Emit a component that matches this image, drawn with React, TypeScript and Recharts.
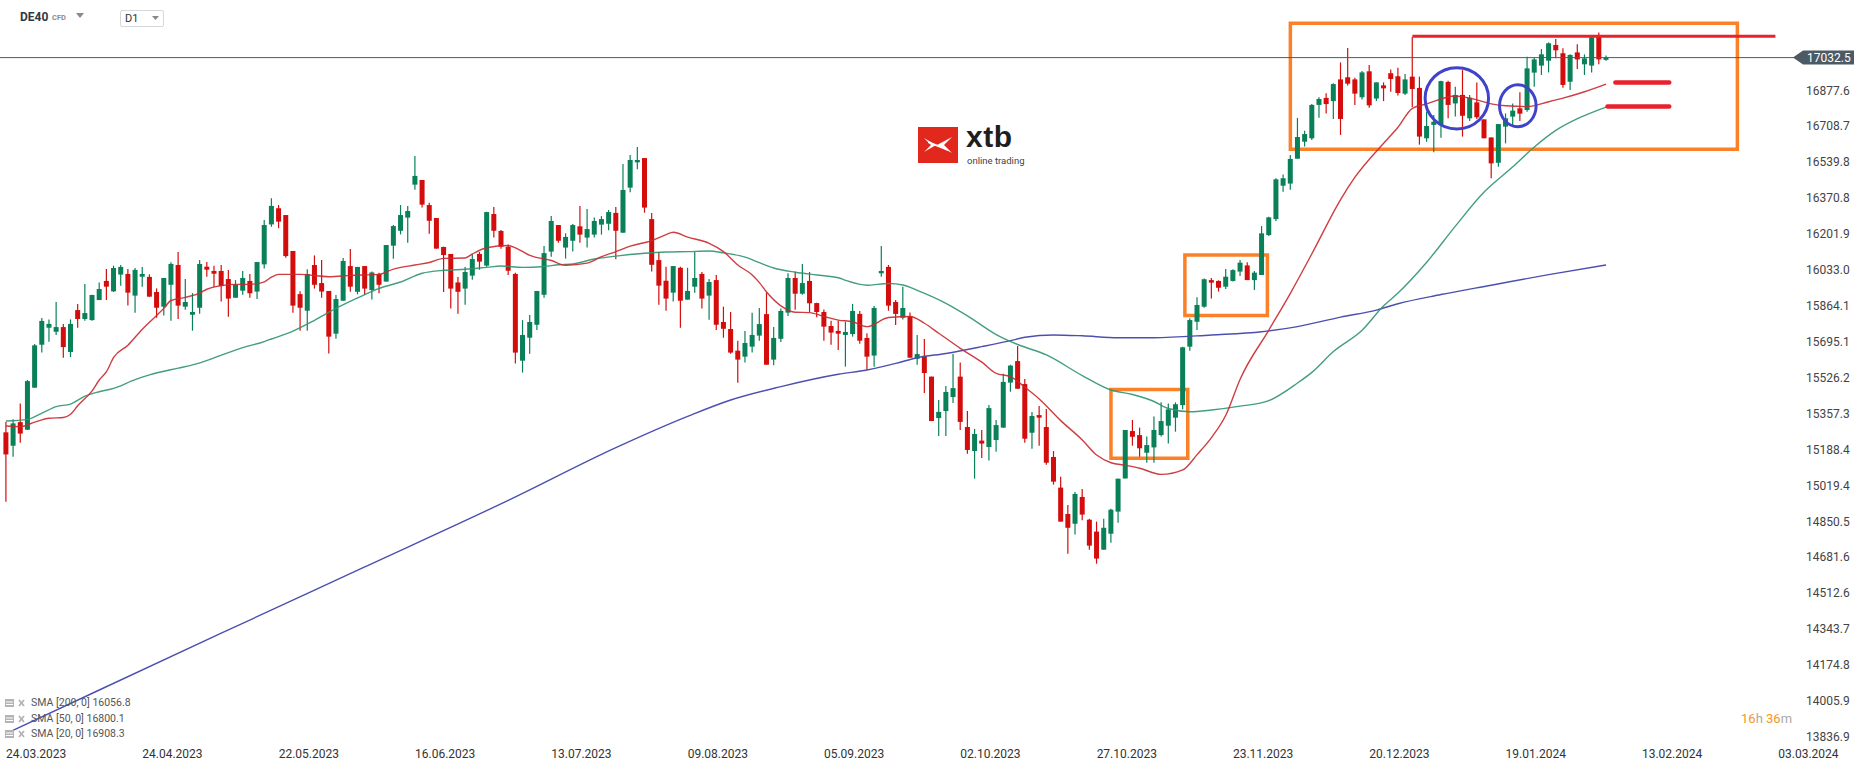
import React from "react";
import {
	ComposedChart,
	Bar,
	Line,
	XAxis,
	YAxis,
	ReferenceArea,
	ReferenceLine,
	ReferenceDot,
} from "recharts";

const W = 1866;
const H = 767;
const AXIS_W = 70;
const PLOT_R = W - AXIS_W;
const X_MIN = -0.836;
const X_MAX = 249.47;
const Y_MIN = 13836.9;
const Y_MAX = 17303.5;

const GREEN = "#0a8059";
const RED = "#d30c0c";
const ORANGE = "#fa8128";
const LINE_RED = "#e8212b";
const CIRCLE = "#3f43c9";
const FONT = "Roboto, 'Noto Sans', sans-serif";

// daily candles DE40, 24.03.2023 .. 02.02.2024
const opens = [
	15270, 15207, 15318, 15282, 15480, 15682, 15762, 15743, 15765, 15648,
	15845, 15803, 15798, 15892, 15982, 15933, 16012, 16015, 15913, 16002,
	16001, 15930, 15861, 15964, 16057, 15861, 15823, 15856, 16049, 16029,
	16029, 15991, 15903, 15936, 15982, 15932, 16060, 16248, 16324, 16292,
	16123, 15920, 15842, 16057, 15972, 15935, 15734, 15889, 16052, 15931,
	16052, 15939, 16015, 15979, 16148, 16218, 16280, 16435, 16457, 16339,
	16278, 16142, 16109, 15975, 15946, 16007, 16109, 16054, 16297, 16217,
	16143, 16015, 15607, 15715, 15776, 15917, 16120, 16245, 16139, 16171,
	16239, 16186, 16200, 16247, 16251, 16302, 16209, 16421, 16540, 16560,
	16273, 16080, 15983, 15927, 16044, 15894, 15955, 16015, 15913, 15986,
	15789, 15756, 15654, 15626, 15673, 15725, 15826, 15612, 15710, 15833,
	15996, 15922, 15982, 15878, 15836, 15770, 15747, 15728, 15732, 15827,
	15714, 15631, 16018, 16048, 15883, 15809, 15817, 15616, 15629, 15532,
	15337, 15370, 15436, 15532, 15295, 15182, 15231, 15201, 15234, 15292,
	15504, 15605, 15497, 15268, 15351, 15295, 15154, 15010, 14886, 14840,
	14966, 14859, 14803, 14718, 14793, 14897, 15053, 15276, 15257, 15174,
	15199, 15257, 15301, 15339, 15398, 15673, 15790, 15861, 15986, 15982,
	15955, 15982, 16026, 16055, 15986, 16010, 16198, 16273, 16430, 16440,
	16557, 16637, 16653, 16810, 16843, 16828, 16930, 16940, 16930, 16846,
	16968, 16840, 16902, 16959, 16945, 16863, 16943, 16890, 16653, 16716,
	16716, 16918, 16817, 16857, 16747, 16822, 16742, 16657, 16538, 16708,
	16755, 16794, 16786, 16962, 16995, 17018, 17092, 17053, 16919, 17057,
	17001, 16995, 17131, 17022,
];
const highs = [
	15320, 15331, 15406, 15516, 15685, 15808, 15801, 15883, 15780, 15801,
	15874, 15968, 15917, 15975, 16038, 16054, 16057, 16038, 16043, 16048,
	16013, 15947, 15996, 16070, 16118, 15991, 15925, 16081, 16071, 16054,
	16057, 16034, 15986, 16029, 16015, 16071, 16269, 16371, 16339, 16292,
	16123, 15933, 16037, 16102, 16081, 15935, 15916, 16090, 16132, 16048,
	16052, 16026, 16021, 16151, 16245, 16339, 16334, 16570, 16457, 16350,
	16278, 16143, 16109, 16000, 16048, 16109, 16118, 16308, 16330, 16222,
	16154, 16021, 15798, 15822, 15935, 16146, 16287, 16245, 16206, 16250,
	16334, 16320, 16281, 16287, 16316, 16330, 16532, 16574, 16612, 16560,
	16302, 16118, 16049, 16052, 16049, 16044, 16118, 16024, 15991, 16010,
	15861, 15836, 15701, 15747, 15833, 15855, 15927, 15765, 15852, 16018,
	16026, 16062, 16024, 15880, 15848, 15795, 15795, 15790, 15874, 15841,
	15736, 15864, 16146, 16057, 15892, 15955, 15834, 15728, 15709, 15532,
	15422, 15488, 15638, 15598, 15370, 15286, 15281, 15398, 15328, 15546,
	15588, 15676, 15521, 15366, 15394, 15380, 15182, 15061, 14928, 14989,
	15003, 14864, 14850, 14864, 14911, 15052, 15281, 15328, 15292, 15250,
	15344, 15411, 15406, 15411, 15673, 15806, 15905, 15993, 15996, 15985,
	16038, 16037, 16081, 16070, 16029, 16240, 16284, 16465, 16483, 16574,
	16749, 16689, 16814, 16846, 16865, 16912, 17010, 17078, 16938, 16970,
	16998, 16916, 16916, 16977, 16985, 16955, 17130, 16943, 16778, 16763,
	16924, 16924, 16896, 16974, 16857, 16915, 16742, 16657, 16720, 16770,
	16817, 16869, 17037, 17032, 17073, 17104, 17120, 17076, 17048, 17095,
	17048, 17131, 17151, 17042,
];
const lows = [
	14944, 15155, 15221, 15282, 15480, 15645, 15696, 15728, 15621, 15624,
	15762, 15795, 15795, 15892, 15892, 15930, 15960, 15866, 15833, 15955,
	15908, 15809, 15819, 15795, 15803, 15847, 15748, 15828, 16002, 15954,
	15885, 15814, 15903, 15917, 15903, 15897, 16040, 16237, 16230, 16091,
	15833, 15748, 15748, 15946, 15903, 15641, 15710, 15889, 15931, 15919,
	15916, 15895, 15924, 15979, 16087, 16201, 16162, 16411, 16327, 16204,
	16134, 15930, 15852, 15828, 15870, 15988, 16035, 16049, 16186, 16134,
	16010, 15594, 15551, 15640, 15751, 15903, 16096, 16162, 16087, 16120,
	16162, 16139, 16186, 16200, 16220, 16084, 16209, 16399, 16507, 16303,
	16026, 15870, 15842, 15885, 15762, 15894, 15927, 15852, 15800, 15751,
	15715, 15640, 15503, 15599, 15645, 15701, 15588, 15585, 15695, 15817,
	15847, 15917, 15836, 15811, 15701, 15682, 15657, 15579, 15720, 15687,
	15563, 15579, 16002, 15842, 15775, 15801, 15621, 15588, 15455, 15323,
	15253, 15253, 15408, 15281, 15169, 15052, 15149, 15137, 15179, 15292,
	15461, 15475, 15221, 15193, 15207, 15118, 15024, 14850, 14699, 14789,
	14856, 14718, 14652, 14718, 14751, 14845, 15053, 15207, 15155, 15127,
	15127, 15250, 15217, 15273, 15378, 15654, 15751, 15856, 15899, 15932,
	15944, 15979, 16005, 15986, 15939, 16010, 16193, 16264, 16402, 16411,
	16557, 16614, 16645, 16750, 16770, 16744, 16669, 16901, 16810, 16836,
	16797, 16828, 16828, 16872, 16854, 16857, 16800, 16623, 16637, 16587,
	16656, 16747, 16755, 16661, 16734, 16744, 16653, 16465, 16519, 16629,
	16711, 16734, 16778, 16896, 16951, 16963, 17029, 16891, 16880, 16979,
	16951, 16963, 17001, 17018,
];
const closes = [
	15166, 15312, 15264, 15511, 15679, 15794, 15780, 15765, 15671, 15780,
	15803, 15831, 15916, 15944, 15955, 16043, 16048, 15927, 16034, 16015,
	15908, 15856, 15996, 16062, 15866, 15883, 15836, 16062, 16035, 16016,
	15958, 15899, 15964, 15996, 15924, 16071, 16245, 16335, 16261, 16099,
	15866, 15856, 16015, 15964, 15932, 15720, 15897, 16076, 15955, 16048,
	15946, 16022, 15964, 16151, 16240, 16292, 16311, 16476, 16341, 16265,
	16134, 16104, 15946, 15931, 16024, 16085, 16073, 16306, 16218, 16143,
	16030, 15645, 15728, 15789, 15935, 16113, 16264, 16171, 16189, 16245,
	16200, 16226, 16264, 16273, 16306, 16218, 16410, 16551, 16551, 16327,
	16058, 15960, 15899, 16052, 15889, 15935, 15996, 15899, 15977, 15776,
	15757, 15645, 15612, 15690, 15728, 15779, 15588, 15714, 15841, 15996,
	15922, 15972, 15877, 15836, 15767, 15739, 15734, 15742, 15841, 15701,
	15626, 15855, 16029, 15866, 15827, 15855, 15621, 15638, 15549, 15323,
	15366, 15460, 15478, 15319, 15187, 15262, 15217, 15384, 15304, 15507,
	15584, 15475, 15240, 15347, 15339, 15127, 15038, 14850, 14821, 14980,
	14883, 14737, 14676, 14821, 14906, 15052, 15281, 15249, 15195, 15210,
	15281, 15323, 15378, 15402, 15670, 15798, 15869, 15990, 15974, 15950,
	16002, 16033, 16068, 15986, 16021, 16206, 16281, 16460, 16465, 16556,
	16659, 16673, 16810, 16838, 16814, 16908, 16744, 16910, 16863, 16963,
	16808, 16916, 16888, 16932, 16866, 16930, 16885, 16661, 16711, 16731,
	16922, 16810, 16857, 16759, 16844, 16752, 16653, 16535, 16720, 16747,
	16783, 16769, 16982, 17024, 17048, 17100, 17067, 16904, 17045, 17024,
	17029, 17128, 17024, 17032.5,
];

// moving averages: [candle index, value]
const sma20 = [
	[0, 15300], [2, 15297], [4, 15318], [6, 15336], [8, 15340], [9, 15355],
	[10, 15395], [12, 15465], [13, 15516], [14, 15555], [15, 15622], [17, 15680],
	[19, 15755], [21, 15820], [22, 15853], [23, 15890], [25, 15905], [27, 15925],
	[28, 15943], [30, 15960], [32, 15966], [34, 15966], [36, 15978], [37, 16000],
	[38, 16013], [41, 16013], [45, 16002], [48, 16008], [52, 16013], [54, 16038],
	[57, 16057], [59, 16069], [61, 16088], [64, 16090], [65, 16109], [67, 16138],
	[70, 16149], [71, 16138], [73, 16102], [76, 16078], [78, 16056], [81, 16066],
	[83, 16096], [85, 16120], [87, 16146], [90, 16172], [92, 16200], [93, 16211],
	[95, 16188], [98, 16159], [100, 16120], [102, 16057], [104, 16010], [105, 15974],
	[106, 15930], [108, 15865], [110, 15835], [112, 15833], [114, 15815], [116, 15798],
	[118, 15790], [120, 15767], [123, 15810], [126, 15815], [128, 15783], [130, 15736],
	[133, 15665], [136, 15600], [138, 15547], [140, 15532], [142, 15482], [144, 15427],
	[147, 15325], [150, 15234], [152, 15163], [154, 15127], [156, 15115], [158, 15101],
	[161, 15072], [164, 15093], [166, 15165], [168, 15245], [170, 15350], [172, 15520],
	[176, 15751], [179, 15924], [182, 16110], [186, 16365], [188, 16470], [192, 16630],
	[194, 16705], [196, 16794], [198, 16815], [202, 16852], [204, 16842], [207, 16815],
	[209, 16806], [212, 16802], [215, 16825], [217, 16842], [220, 16872], [223, 16908],
];
const sma50 = [
	[0, 15323], [3, 15331], [5, 15360], [7, 15391], [9, 15403], [11, 15440],
	[13, 15461], [15, 15477], [18, 15518], [20, 15540], [24, 15572], [26, 15587],
	[29, 15620], [31, 15645], [33, 15668], [36, 15697], [37, 15709], [40, 15746],
	[43, 15797], [46, 15853], [49, 15902], [52, 15947], [55, 15977], [58, 16018],
	[61, 16032], [64, 16037], [67, 16046], [69, 16052], [72, 16046], [75, 16050],
	[77, 16058], [79, 16062], [82, 16085], [85, 16099], [89, 16112], [92, 16118],
	[95, 16120], [98, 16123], [100, 16114], [103, 16094], [105, 16068], [107, 16043],
	[110, 16023], [113, 16010], [116, 15997], [117, 15985], [120, 15962], [123, 15970],
	[125, 15963], [127, 15938], [131, 15877], [134, 15818], [138, 15730], [141, 15683],
	[145, 15634], [150, 15537], [154, 15469], [157, 15448], [160, 15415], [162, 15382],
	[165, 15367], [168, 15375], [172, 15393], [176, 15419], [180, 15502], [182, 15552],
	[185, 15650], [189, 15750], [192, 15865], [194, 15925], [198, 16070], [202, 16240],
	[206, 16400], [210, 16519], [213, 16612], [216, 16690], [219, 16745], [223, 16800],
];
const sma200 = [
	[0, 13853], [13, 14058], [30, 14325], [50, 14637], [70, 14950], [85, 15198],
	[95, 15345], [101, 15422], [108, 15485], [116, 15543], [120, 15563], [124, 15594],
	[127, 15621], [131, 15641], [136, 15673], [140, 15701], [142, 15717], [146, 15728],
	[150, 15724], [155, 15715], [160, 15715], [168, 15728], [175, 15743], [180, 15767],
	[186, 15812], [191, 15845], [194, 15875], [200, 15918], [207, 15962], [215, 16012],
	[223, 16057],
];

const dateIdx = [0, 19, 38, 57, 76, 95, 114, 133, 152, 171, 190, 209, 228, 247];
const dateLabels = [
	"24.03.2023", "24.04.2023", "22.05.2023", "16.06.2023", "13.07.2023",
	"09.08.2023", "05.09.2023", "02.10.2023", "27.10.2023", "23.11.2023",
	"20.12.2023", "19.01.2024", "13.02.2024", "03.03.2024",
];
const priceTicks = [
	13836.9, 14005.9, 14174.8, 14343.7, 14512.6, 14681.6, 14850.5, 15019.4,
	15188.4, 15357.3, 15526.2, 15695.1, 15864.1, 16033.0, 16201.9, 16370.8,
	16539.8, 16708.7, 16877.6,
];
const lastPrice = 17032.5;

const legendRows = [
	["SMA [200, 0]", "16056.8"],
	["SMA [50, 0]", "16800.1"],
	["SMA [20, 0]", "16908.3"],
];

const toMap = (pts: number[][]) => new Map(pts.map(p => [p[0], p[1]]));
const m20 = toMap(sma20);
const m50 = toMap(sma50);
const m200 = toMap(sma200);

const data = opens.map((o, i) => ({
	i,
	o,
	h: highs[i],
	l: lows[i],
	c: closes[i],
	range: [lows[i], highs[i]],
	s20: m20.get(i) ?? null,
	s50: m50.get(i) ?? null,
	s200: m200.get(i) ?? null,
}));

const Candle = (props: any) => {
	const { x, y, width, height, payload } = props;
	if (!payload || payload.h == null) return null;
	const { o, h, l, c } = payload;
	const top = Math.min(y, y + height);
	const span = Math.abs(height);
	const k = span / (h - l || 1);
	const yOf = (v: number) => top + (h - v) * k;
	const cx = x + width / 2;
	const color = c >= o ? GREEN : RED;
	const bTop = yOf(Math.max(o, c));
	const bH = Math.max(1, yOf(Math.min(o, c)) - bTop);
	return (
		<g>
			<line x1={cx} x2={cx} y1={top} y2={top + span} stroke={color} strokeWidth={1.2} />
			<rect x={cx - 2.5} y={bTop} width={5} height={bH} fill={color} />
		</g>
	);
};

const DateTick = (props: any) => {
	const k = dateIdx.indexOf(props.payload.value);
	return (
		<text x={props.x} y={758} fontSize={12} fill='#333' fontFamily={FONT} textAnchor='start'>
			{dateLabels[k]}
		</text>
	);
};

const PriceTick = (props: any) => (
	<text x={PLOT_R + 10} y={props.y + 4} fontSize={12} fill='#444' fontFamily={FONT} textAnchor='start'>
		{Number(props.payload.value).toFixed(1)}
	</text>
);

const PriceTag = (props: any) => {
	const vb = props.viewBox || {};
	const r = vb.x + vb.width;
	const y = vb.y;
	return (
		<g>
			<polygon
				points={`${r - 3},${y} ${r + 7},${y - 7} ${r + 58},${y - 7} ${r + 58},${y + 7} ${r + 7},${y + 7}`}
				fill='#4c5a66'
			/>
			<text x={r + 11} y={y + 4.5} fontSize={12} fill='#fff' fontFamily={FONT}>
				{lastPrice.toFixed(1)}
			</text>
		</g>
	);
};

const Ellipse = (rx: number, ry: number) => (props: any) => (
	<ellipse cx={props.cx} cy={props.cy} rx={rx} ry={ry} fill='none' stroke={CIRCLE} strokeWidth={3} />
);

function Header() {
	return (
		<div style={{ position: "absolute", left: 0, top: 0, width: 200, height: 36, fontFamily: FONT }}>
			<span style={{ position: "absolute", left: 20, top: 10, fontSize: 12, fontWeight: 700, color: "#2e3a44" }}>DE40</span>
			<span style={{ position: "absolute", left: 52, top: 13, fontSize: 7.5, fontWeight: 700, color: "#8a8a8a" }}>CFD</span>
			<svg style={{ position: "absolute", left: 76, top: 13 }} width={8} height={5}>
				<polygon points='0,0 8,0 4,5' fill='#8a8a8a' />
			</svg>
			<div
				style={{
					position: "absolute",
					left: 120,
					top: 10,
					width: 42,
					height: 15,
					border: "1px solid #d8d8d8",
					borderRadius: 2,
				}}>
				<span style={{ position: "absolute", left: 4, top: 1, fontSize: 11, color: "#333" }}>D1</span>
				<svg style={{ position: "absolute", left: 31, top: 5 }} width={7} height={4}>
					<polygon points='0,0 7,0 3.5,4' fill='#8a8a8a' />
				</svg>
			</div>
		</div>
	);
}

function Logo() {
	return (
		<div style={{ position: "absolute", left: 918, top: 127, width: 120, height: 40 }}>
			<svg width={40} height={36} style={{ position: "absolute", left: 0, top: 0 }}>
				<rect x={0} y={0} width={40} height={36} fill='#e2281c' />
				<path d='M6 11 L18 18 L6 25 L13 18 Z' fill='#fff' />
				<path d='M34 10 L19 18 L34 26 L26 18 Z' fill='#fff' />
				<path d='M10 14 L30 22 L30 24 L10 16 Z' fill='#fff' />
			</svg>
			<span
				style={{
					position: "absolute",
					left: 48,
					top: -7,
					fontSize: 30,
					fontWeight: 700,
					color: "#1e1e1e",
					fontFamily: "'Liberation Sans', Arial, sans-serif",
					letterSpacing: 0.5,
				}}>
				xtb
			</span>
			<span
				style={{
					position: "absolute",
					left: 49,
					top: 28,
					fontSize: 9.5,
					color: "#444",
					fontFamily: FONT,
					whiteSpace: "nowrap",
				}}>
				online trading
			</span>
		</div>
	);
}

function Legend() {
	return (
		<div style={{ position: "absolute", left: 0, top: 696, fontFamily: FONT }}>
			{legendRows.map((row, k) => (
				<div key={row[0]} style={{ position: "absolute", left: 0, top: k * 15.5, height: 14, width: 200 }}>
					<svg width={28} height={14} style={{ position: "absolute", left: 5, top: 0 }}>
						<rect x={0} y={3} width={9} height={8} fill='#b3b3b3' />
						<line x1={1} x2={8} y1={6} y2={6} stroke='#fff' strokeWidth={1} />
						<line x1={1} x2={8} y1={8.5} y2={8.5} stroke='#fff' strokeWidth={1} />
						<line x1={14} x2={19} y1={4} y2={10} stroke='#b3b3b3' strokeWidth={1.8} />
						<line x1={19} x2={14} y1={4} y2={10} stroke='#b3b3b3' strokeWidth={1.8} />
					</svg>
					<span style={{ position: "absolute", left: 31, top: 0, fontSize: 10.5, color: "#555", whiteSpace: "nowrap" }}>
						{row[0]} {row[1]}
					</span>
				</div>
			))}
		</div>
	);
}

function Timer() {
	return (
		<div style={{ position: "absolute", left: 1741, top: 711, fontFamily: FONT, fontSize: 13, whiteSpace: "nowrap" }}>
			<span style={{ color: "#f7941d" }}>16</span>
			<span style={{ color: "#aaa" }}>h </span>
			<span style={{ color: "#f7941d" }}>36</span>
			<span style={{ color: "#aaa" }}>m</span>
		</div>
	);
}

export default function App() {
	return (
		<div style={{ position: "absolute", left: 0, top: 0, width: W, height: H, background: "#fff" }}>
			<ComposedChart width={W} height={H} data={data} margin={{ top: 0, right: 0, bottom: 0, left: 0 }}>
				<XAxis
					dataKey='i'
					type='number'
					domain={[X_MIN, X_MAX]}
					ticks={dateIdx}
					tick={<DateTick />}
					axisLine={false}
					tickLine={false}
					height={30}
					allowDataOverflow
					interval={0}
				/>
				<YAxis
					orientation='right'
					type='number'
					domain={[Y_MIN, Y_MAX]}
					ticks={priceTicks}
					tick={<PriceTick />}
					axisLine={false}
					tickLine={false}
					width={AXIS_W}
					allowDataOverflow
					interval={0}
				/>
				<ReferenceLine y={lastPrice} stroke='#4c5a66' strokeWidth={1} label={<PriceTag />} />
				<Line
					dataKey='s200'
					type='monotone'
					stroke='#4b50b0'
					strokeWidth={1.4}
					dot={false}
					connectNulls
					isAnimationActive={false}
				/>
				<Line
					dataKey='s50'
					type='monotone'
					stroke='#2f9470'
					strokeWidth={1.4}
					strokeOpacity={0.9}
					dot={false}
					connectNulls
					isAnimationActive={false}
				/>
				<Line
					dataKey='s20'
					type='monotone'
					stroke='#c9282d'
					strokeWidth={1.4}
					strokeOpacity={0.9}
					dot={false}
					connectNulls
					isAnimationActive={false}
				/>
				<Bar dataKey='range' barSize={5} shape={<Candle />} isAnimationActive={false} />
				{/* annotations */}
				<ReferenceArea x1={179} x2={241.3} y1={16601} y2={17194} fill='none' fillOpacity={0} stroke={ORANGE} strokeWidth={3.5} ifOverflow='visible' />
				<ReferenceArea x1={164.3} x2={175.8} y1={15819} y2={16104} fill='none' fillOpacity={0} stroke={ORANGE} strokeWidth={3.5} ifOverflow='visible' />
				<ReferenceArea x1={154} x2={164.7} y1={15148} y2={15472} fill='none' fillOpacity={0} stroke={ORANGE} strokeWidth={3.5} ifOverflow='visible' />
				<ReferenceLine
					segment={[{ x: 196, y: 17132.8 }, { x: 246.6, y: 17132.8 }]}
					stroke={LINE_RED}
					strokeWidth={3}
					ifOverflow='visible'
				/>
				<ReferenceLine
					segment={[{ x: 224.3, y: 16916 }, { x: 231.8, y: 16916 }]}
					stroke={LINE_RED}
					strokeWidth={4.5}
					strokeLinecap='round'
					ifOverflow='visible'
				/>
				<ReferenceLine
					segment={[{ x: 223.2, y: 16803 }, { x: 231.8, y: 16803 }]}
					stroke={LINE_RED}
					strokeWidth={4.5}
					strokeLinecap='round'
					ifOverflow='visible'
				/>
				<ReferenceDot x={202.2} y={16841} shape={Ellipse(31.7, 30.7)} ifOverflow='visible' />
				<ReferenceDot x={210.7} y={16806} shape={Ellipse(18.3, 21)} ifOverflow='visible' />
			</ComposedChart>
			<Header />
			<Logo />
			<Legend />
			<Timer />
		</div>
	);
}
